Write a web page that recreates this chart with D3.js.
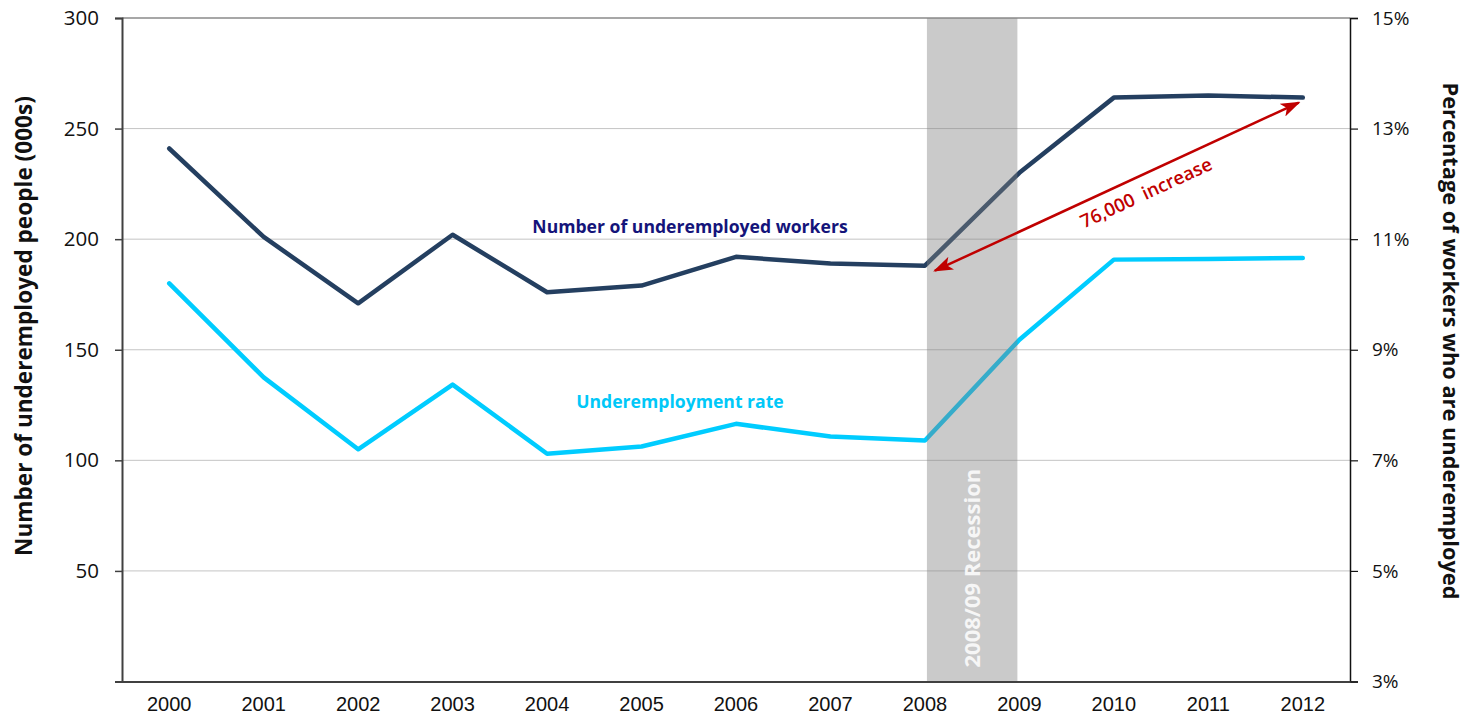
<!DOCTYPE html>
<html>
<head>
<meta charset="utf-8">
<script src="https://cdn.jsdelivr.net/npm/d3@7/dist/d3.min.js"></script>
<style>
  html, body { margin: 0; padding: 0; background: #fff; }
  svg { display: block; }
</style>
</head>
<body>
<svg id="chart" width="1468" height="720"></svg>
<script>
// Underemployment, 2000–2012
const years = ["2000","2001","2002","2003","2004","2005","2006","2007","2008","2009","2010","2011","2012"];
const underemployedThousands = [241, 201, 171, 202, 176, 179, 192, 189, 188, 230, 264, 265, 264];
const underemploymentRatePct = [10.2, 8.5, 7.2, 8.37, 7.12, 7.25, 7.66, 7.43, 7.36, 9.18, 10.63, 10.64, 10.66];
const leftTicks = [50, 100, 150, 200, 250, 300];
const rightTicks = [3, 5, 7, 9, 11, 13, 15];
const recession = ["2008", "2009"];

const svg = d3.select("#chart");
const plot = { left: 122, right: 1350, top: 18, bottom: 681.5 };

const x = d3.scaleBand().domain(years).range([plot.left, plot.right]);
const xc = d => x(d) + x.bandwidth() / 2;
const yL = d3.scaleLinear().domain([0, 300]).range([plot.bottom, plot.top]);
const yR = d3.scaleLinear().domain([3, 15]).range([plot.bottom, plot.top]);

// horizontal gridlines
svg.append("g").selectAll("line").data(leftTicks.filter(t => t < 300)).join("line")
  .attr("x1", plot.left).attr("x2", plot.right)
  .attr("y1", d => yL(d)).attr("y2", d => yL(d))
  .attr("stroke", "#c4c4c4").attr("stroke-width", 1);
// top border of the plot
svg.append("line").attr("x1", plot.left).attr("x2", plot.right)
  .attr("y1", yL(300)).attr("y2", yL(300))
  .attr("stroke", "#8a8a8a").attr("stroke-width", 1.5);

// series lines
const lineL = d3.line().x((d, i) => xc(years[i])).y(d => yL(d));
const lineR = d3.line().x((d, i) => xc(years[i])).y(d => yR(d));

svg.append("path").datum(underemploymentRatePct).attr("d", lineR)
  .attr("fill", "none").attr("stroke", "#00ccff").attr("stroke-width", 4.5)
  .attr("stroke-linejoin", "round").attr("stroke-linecap", "round");
svg.append("path").datum(underemployedThousands).attr("d", lineL)
  .attr("fill", "none").attr("stroke", "#243f60").attr("stroke-width", 4.5)
  .attr("stroke-linejoin", "round").attr("stroke-linecap", "round");

// recession shading
const rx0 = xc(recession[0]) + 2, rx1 = xc(recession[1]) - 2;
svg.append("rect").attr("x", rx0).attr("y", plot.top).attr("width", rx1 - rx0)
  .attr("height", plot.bottom - plot.top)
  .attr("fill", "#808080").attr("fill-opacity", 0.42);
svg.append("text")
  .attr("transform", `translate(${(rx0 + rx1) / 2 + 8},${plot.bottom - 14}) rotate(-90)`)
  .attr("font-family", "Open Sans").attr("font-weight", "bold").attr("font-size", 22)
  .attr("fill", "#f6f6f6")
  .text("2008/09 Recession");

// axes
const axisColor = "#404040";
const gLeft = svg.append("g").attr("transform", `translate(${plot.left},0)`)
  .call(d3.axisLeft(yL).tickValues([0, ...leftTicks]).tickSize(7).tickFormat(d => d === 0 ? "" : d));
gLeft.select(".domain").attr("stroke", axisColor).attr("stroke-width", 2);
gLeft.selectAll(".tick line").attr("stroke", axisColor).attr("stroke-width", 1.5);
gLeft.selectAll(".tick text").attr("font-family", "Open Sans").attr("font-size", 20.5)
  .attr("fill", "#111").attr("x", -23);

const gRight = svg.append("g").attr("transform", `translate(${plot.right},0)`)
  .call(d3.axisRight(yR).tickValues(rightTicks).tickSize(8).tickFormat(d => d + "%"));
gRight.select(".domain").attr("stroke", "#111").attr("stroke-width", 1.5);
gRight.selectAll(".tick line").attr("stroke", "#111").attr("stroke-width", 1.2);
gRight.selectAll(".tick text").attr("font-family", "Open Sans").attr("font-size", 19)
  .attr("fill", "#111").attr("x", 22);

const gBottom = svg.append("g").attr("transform", `translate(0,${plot.bottom})`)
  .call(d3.axisBottom(x).tickSize(0));
gBottom.select(".domain").attr("stroke", axisColor).attr("stroke-width", 2);
gBottom.selectAll(".tick text").attr("font-family", "Liberation Sans").attr("font-size", 20)
  .attr("fill", "#111").attr("dy", "1.3em");

// axis titles
svg.append("text")
  .attr("transform", `translate(32,326) rotate(-90)`)
  .attr("text-anchor", "middle").attr("font-family", "Open Sans")
  .attr("font-weight", "bold").attr("font-size", 22.6).attr("fill", "#111")
  .text("Number of underemployed people (000s)");
svg.append("text")
  .attr("transform", `translate(1443,341) rotate(90)`)
  .attr("text-anchor", "middle").attr("font-family", "Open Sans")
  .attr("font-weight", "bold").attr("font-size", 21.8).attr("fill", "#111")
  .text("Percentage of workers who are underemployed");

// series labels
svg.append("text").attr("x", 690).attr("y", 233).attr("text-anchor", "middle")
  .attr("font-family", "Open Sans").attr("font-weight", "bold").attr("font-size", 17.6)
  .attr("fill", "#14147a").text("Number of underemployed workers");
svg.append("text").attr("x", 680).attr("y", 408).attr("text-anchor", "middle")
  .attr("font-family", "Open Sans").attr("font-weight", "bold").attr("font-size", 17.6)
  .attr("fill", "#00c8f8").text("Underemployment rate");

// change annotation: from 2008 level to 2012 level
const red = "#c00000";
const defs = svg.append("defs");
defs.append("marker").attr("id", "head").attr("viewBox", "0 0 20 14")
  .attr("refX", 18).attr("refY", 7).attr("markerWidth", 20).attr("markerHeight", 14)
  .attr("markerUnits", "userSpaceOnUse").attr("orient", "auto-start-reverse")
  .append("path").attr("d", "M0,0 L20,7 L0,14 L5,7 Z").attr("fill", red);

const a0 = [xc("2008") + 10, yL(underemployedThousands[8]) + 5];
const a1 = [xc("2012") - 4, yL(underemployedThousands[12]) + 5];
svg.append("line").attr("x1", a0[0]).attr("y1", a0[1]).attr("x2", a1[0]).attr("y2", a1[1])
  .attr("stroke", red).attr("stroke-width", 2.5)
  .attr("marker-start", "url(#head)").attr("marker-end", "url(#head)");
const ang = Math.atan2(a1[1] - a0[1], a1[0] - a0[0]) * 180 / Math.PI;
const diff = underemployedThousands[12] - underemployedThousands[8];
svg.append("text")
  .attr("transform", `translate(${(a0[0] + a1[0]) / 2 + 32},${(a0[1] + a1[1]) / 2 + 12}) rotate(${ang})`)
  .attr("text-anchor", "middle").attr("font-family", "Open Sans").attr("font-weight", 600)
  .attr("font-size", 18.5).attr("fill", red)
  .style("white-space", "pre")
  .text(d3.format(",")(diff * 1000) + "  increase");
</script>
</body>
</html>
